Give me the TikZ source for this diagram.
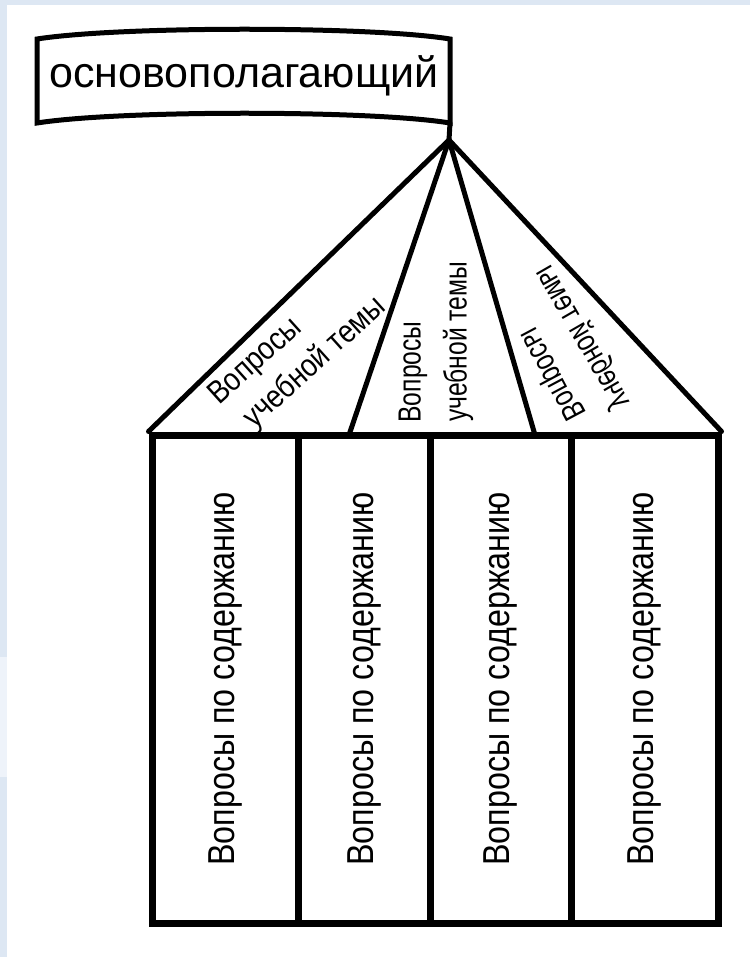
\documentclass[tikz,border=0pt]{standalone}
\usepackage{fontspec}
\setmainfont{Liberation Sans}
\usepackage{graphicx}
\definecolor{bgblue}{RGB}{221,231,243}
\definecolor{bglight}{RGB}{238,243,250}
\newcommand\boxtext{\fontsize{37.5}{45}\selectfont\rotatebox{90}{\scalebox{0.86}[1]{Вопросы по содержанию}}}
\begin{document}
\begin{tikzpicture}[x=1pt,y=-1pt,
  fan/.style={line width=5pt, line cap=round, line join=round},
  banner/.style={line width=5pt, line join=miter},
  colbox/.style={draw, line width=7pt, inner sep=0pt, minimum height=488pt},
  lbl/.style={inner sep=0pt, font=\fontsize{32}{36}\selectfont}
]
\useasboundingbox (0,0) rectangle (750,957);
\fill[bgblue] (0,0) rectangle (750,957);
\fill[white] (7,5) rectangle (750,957);
\fill[bglight] (0,657) rectangle (7,777);

% banner
\draw[banner] (37,39) .. controls (120,26) and (370,26) .. (450,39)
   -- (450,123) .. controls (370,110) and (120,110) .. (37,123) -- cycle;
\node[anchor=base, inner sep=0pt, font=\fontsize{43}{50}\selectfont] (title) at (244,88) {основополагающий};
\coordinate (bannerbr) at (450,123);
\coordinate (apex) at (449,140);

% columns
\node[colbox, minimum width=146pt] (c1) at (225,679) {\boxtext};
\node[colbox, minimum width=132pt] (c2) at (364,679) {\boxtext};
\node[colbox, minimum width=141pt] (c3) at (500.5,679) {\boxtext};
\node[colbox, minimum width=147pt] (c4) at (644.5,679) {\boxtext};

\coordinate (f2) at (349,435);
\coordinate (f3) at (535,435);

% fan
\draw[fan] (bannerbr) -- (apex);
\draw[fan] (apex) -- (c1.north west);
\draw[fan] (apex) -- (f2);
\draw[fan] (apex) -- (f3);
\draw[fan] (apex) -- (c4.north east);

% labels
\node[lbl, rotate=42] (l1a) at (256,362) {\scalebox{0.86}[1]{Вопросы}};
\node[lbl, rotate=42] (l1b) at (315,363) {\scalebox{0.86}[1]{учебной темы}};
\node[lbl, rotate=90] (l2a) at (413,372) {\scalebox{0.77}[1]{Вопросы}};
\node[lbl, rotate=90] (l2b) at (458,342) {\scalebox{0.77}[1]{учебной темы}};
\node[lbl, rotate=-62] (l3a) at (551,375) {\scalebox{-0.77}[1]{Вопросы}};
\node[lbl, rotate=-60] (l3b) at (583,337) {\scalebox{-0.77}[1]{учебной темы}};
\end{tikzpicture}
\end{document}
